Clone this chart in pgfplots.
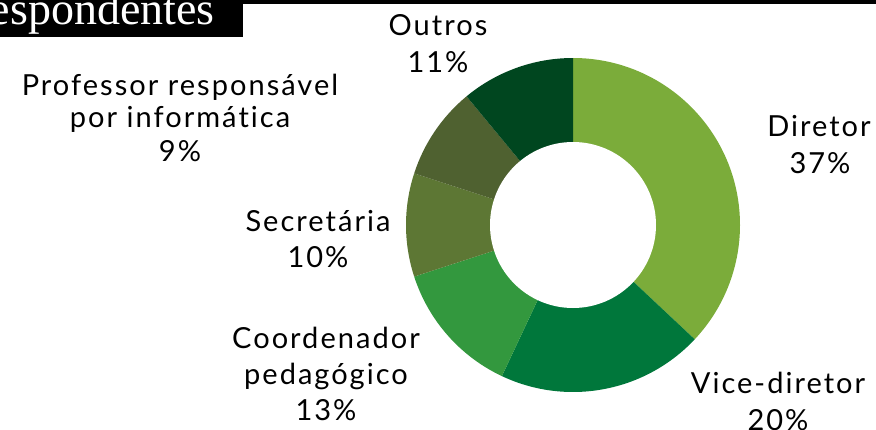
\documentclass[border=0pt]{standalone}
\usepackage{pgfplots}
\pgfplotsset{compat=1.18}
\usepackage{fontspec}
\setmainfont{Lato}[LetterSpace=7, Ligatures=CommonOff]
\newfontfamily\titlefont{Liberation Serif}
\definecolor{cDir}{HTML}{7BAC3A}
\definecolor{cVice}{HTML}{00773B}
\definecolor{cCoord}{HTML}{33983E}
\definecolor{cSec}{HTML}{5D7734}
\definecolor{cProf}{HTML}{4F6130}
\definecolor{cOut}{HTML}{00461F}
\tikzset{lbl/.style={anchor=base, inner sep=0pt, font=\fontsize{29}{34}\selectfont, text=black}}
\begin{document}
\begin{tikzpicture}[x=1pt,y=1pt]
\begin{axis}[
  at={(0,0)}, anchor=south west,
  width=876pt, height=429pt, scale only axis,
  xmin=0, xmax=876, ymin=0, ymax=429,
  hide axis, clip=false,
]
% title bar
\fill[black] (axis cs:0,429) rectangle (axis cs:876,425);
\fill[black] (axis cs:0,429) rectangle (axis cs:243,392);
\node[anchor=base east, inner sep=0pt, text=white, font=\titlefont\fontsize{46}{50}\selectfont] at (axis cs:215,404) {espondentes};
% donut: shares (percent), clockwise from the top
\def\start{90}
\pgfplotsforeachungrouped \v/\c in {37/cDir, 20/cVice, 13/cCoord, 10/cSec, 9/cProf, 11/cOut}{%
  \pgfmathsetmacro\en{\start-3.6*\v}%
  \edef\temp{\noexpand\fill[\c] (axis cs:573,204) -- ++(\start:167pt) arc[start angle=\start, end angle=\en, radius=167pt] -- cycle;}%
  \temp
  \global\let\start\en
}
\fill[white] (axis cs:573,204) circle[radius=83pt];
% labels
\node[lbl] at (axis cs:438,393) {Outros};
\node[lbl] at (axis cs:438,356) {11\%};
\node[lbl] at (axis cs:180,333) {Professor responsável};
\node[lbl] at (axis cs:180,301) {por informática};
\node[lbl] at (axis cs:180,267) {9\%};
\node[lbl] at (axis cs:318,197) {Secretária};
\node[lbl] at (axis cs:318,161) {10\%};
\node[lbl] at (axis cs:326,81) {Coordenador};
\node[lbl] at (axis cs:326,45) {pedagógico};
\node[lbl] at (axis cs:326,9) {13\%};
\node[lbl] at (axis cs:819,292) {Diretor};
\node[lbl] at (axis cs:820,255) {37\%};
\node[lbl] at (axis cs:778,36) {Vice-diretor};
\node[lbl] at (axis cs:778,-1) {20\%};
\end{axis}
\pgfresetboundingbox
\useasboundingbox (0,0) rectangle (876,429);
\end{tikzpicture}
\end{document}
